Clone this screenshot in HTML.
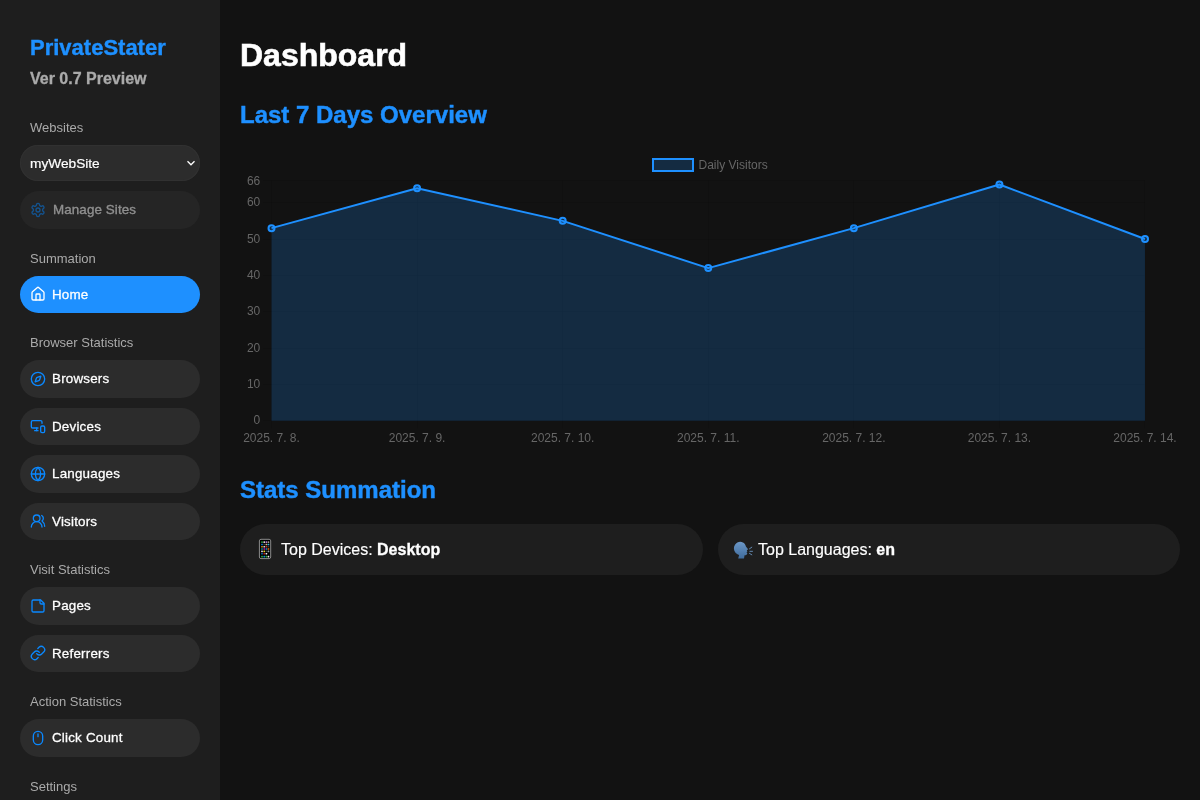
<!DOCTYPE html>
<html lang="en">
<head>
<meta charset="utf-8">
<title>PrivateStater - Dashboard</title>
<style>
*{box-sizing:border-box;}
html,body{margin:0;padding:0;}
body{width:1200px;height:800px;overflow:hidden;background:#121212;color:#fff;font-family:"Liberation Sans",Helvetica,Arial,sans-serif;position:relative;}
.sidebar{position:absolute;left:0;top:0;width:220px;height:800px;background:#1e1e1e;overflow:hidden;}
.brand{position:absolute;left:30px;top:35px;font-size:22px;font-weight:bold;color:#1e90ff;line-height:26px;white-space:nowrap;-webkit-text-stroke:0.4px #1e90ff;}
.ver{position:absolute;left:30px;top:69px;font-size:16px;font-weight:bold;color:#aaa;line-height:20px;white-space:nowrap;-webkit-text-stroke:0.3px #aaa;}
.label{position:absolute;left:30px;font-size:13px;color:#aaa;line-height:16px;white-space:nowrap;}
.item{position:absolute;left:20px;width:180px;height:37px;border-radius:19px;background:#2c2c2c;color:#fff;font-size:13.4px;letter-spacing:0.2px;line-height:37px;padding-left:32px;white-space:nowrap;-webkit-text-stroke:0.27px currentColor;}
.item svg{position:absolute;left:10px;top:10.5px;width:16px;height:16px;stroke:#0a88ff;fill:none;stroke-width:2;stroke-linecap:round;stroke-linejoin:round;}
.item.s svg{top:9.6px;}
.item.active{background:#1e90ff;}
.item.active svg{stroke:#fff;}
.item.dim{opacity:.5;padding-left:33px;letter-spacing:0.1px;}
.select{position:absolute;left:20px;top:145px;width:180px;height:36px;border-radius:18px;background:#2c2c2c;box-shadow:inset 0 0 0 1px #313131;color:#fff;font-size:13.7px;line-height:37px;padding-left:10px;-webkit-text-stroke:0.2px currentColor;}
.select svg{position:absolute;left:166px;top:14px;width:10px;height:8px;stroke:#fff;fill:none;stroke-width:1.3;}
.main{position:absolute;left:220px;top:0;width:980px;height:800px;}
h1{position:absolute;left:20px;top:37px;margin:0;font-size:32px;line-height:37px;font-weight:bold;color:#fff;white-space:nowrap;-webkit-text-stroke:0.6px #fff;}
h2{position:absolute;left:20px;margin:0;font-size:24px;line-height:28px;font-weight:bold;color:#1e90ff;white-space:nowrap;-webkit-text-stroke:0.45px #1e90ff;}
.chart{position:absolute;left:20px;top:150px;width:940px;height:300px;}
.chart text{font-family:"Liberation Sans",Helvetica,Arial,sans-serif;font-size:12px;fill:#666;}
.card{position:absolute;top:524px;height:51px;border-radius:25.5px;background:#1e1e1e;font-size:16px;line-height:52px;white-space:nowrap;color:#fff;-webkit-text-stroke:0.15px #fff;}
.card svg{position:absolute;}
.card b{-webkit-text-stroke:0.3px #fff;}
</style>
</head>
<body>
<div class="sidebar">
  <div class="brand">PrivateStater</div>
  <div class="ver">Ver 0.7 Preview</div>
  <div class="label" style="top:120px">Websites</div>
  <div class="select">myWebSite<svg viewBox="0 0 10 8"><path d="M1.500 2.300 L5 5.800 L8.500 2.300"/></svg></div>
  <div class="item dim" style="top:191px;height:38px"><svg viewBox="0 0 24 24"><path d="M12.220 2h-.44a2 2 0 0 0-2 2v.18a2 2 0 0 1-1 1.730l-.43.25a2 2 0 0 1-2 0l-.15-.08a2 2 0 0 0-2.730.73l-.22.38a2 2 0 0 0 .73 2.730l.15.1a2 2 0 0 1 1 1.720v.51a2 2 0 0 1-1 1.740l-.15.09a2 2 0 0 0-.73 2.730l.22.38a2 2 0 0 0 2.730.73l.15-.08a2 2 0 0 1 2 0l.43.25a2 2 0 0 1 1 1.730V20a2 2 0 0 0 2 2h.44a2 2 0 0 0 2-2v-.18a2 2 0 0 1 1-1.730l.43-.25a2 2 0 0 1 2 0l.15.08a2 2 0 0 0 2.730-.73l.22-.39a2 2 0 0 0-.73-2.730l-.15-.08a2 2 0 0 1-1-1.740v-.5a2 2 0 0 1 1-1.740l.15-.09a2 2 0 0 0 .73-2.730l-.22-.38a2 2 0 0 0-2.730-.73l-.15.08a2 2 0 0 1-2 0l-.43-.25a2 2 0 0 1-1-1.730V4a2 2 0 0 0-2-2z"/><circle cx="12" cy="12" r="3"/></svg>Manage Sites</div>
  <div class="label" style="top:251px">Summation</div>
  <div class="item active s" style="top:276px;height:37px"><svg viewBox="0 0 24 24"><path d="M15 21v-8a1 1 0 0 0-1-1h-4a1 1 0 0 0-1 1v8"/><path d="M3 10a2 2 0 0 1 .709-1.528l7-5.999a2 2 0 0 1 2.582 0l7 5.999A2 2 0 0 1 21 10v9a2 2 0 0 1-2 2H5a2 2 0 0 1-2-2z"/></svg>Home</div>
  <div class="label" style="top:335px">Browser Statistics</div>
  <div class="item" style="top:360px;height:38px"><svg viewBox="0 0 24 24"><path d="m16.240 7.760-1.804 5.411a2 2 0 0 1-1.265 1.265L7.760 16.240l1.804-5.411a2 2 0 0 1 1.265-1.265z"/><circle cx="12" cy="12" r="10"/></svg>Browsers</div>
  <div class="item s" style="top:408px;height:37px"><svg viewBox="0 0 24 24"><path d="M18 8V6a2 2 0 0 0-2-2H4a2 2 0 0 0-2 2v7a2 2 0 0 0 2 2h8"/><path d="M10 19v-3.960 3.150"/><path d="M7 19h5"/><rect width="6" height="10" x="16" y="12" rx="2"/></svg>Devices</div>
  <div class="item" style="top:455px;height:38px"><svg viewBox="0 0 24 24"><circle cx="12" cy="12" r="10"/><path d="M12 2a14.500 14.500 0 0 0 0 20 14.500 14.500 0 0 0 0-20"/><path d="M2 12h20"/></svg>Languages</div>
  <div class="item s" style="top:503px;height:37px"><svg viewBox="0 0 24 24"><path d="M18 21a8 8 0 0 0-16 0"/><circle cx="10" cy="8" r="5"/><path d="M22 20c0-3.370-2-6.500-4-8a5 5 0 0 0-.45-8.300"/></svg>Visitors</div>
  <div class="label" style="top:562px">Visit Statistics</div>
  <div class="item" style="top:587px;height:38px"><svg viewBox="0 0 24 24"><path d="M16 3H5a2 2 0 0 0-2 2v14a2 2 0 0 0 2 2h14a2 2 0 0 0 2-2V8Z"/><path d="M15 3v4a2 2 0 0 0 2 2h4"/></svg>Pages</div>
  <div class="item s" style="top:635px;height:37px"><svg viewBox="0 0 24 24"><path d="M10 13a5 5 0 0 0 7.540.54l3-3a5 5 0 0 0-7.070-7.070l-1.720 1.710"/><path d="M14 11a5 5 0 0 0-7.540-.54l-3 3a5 5 0 0 0 7.070 7.070l1.710-1.710"/></svg>Referrers</div>
  <div class="label" style="top:694px">Action Statistics</div>
  <div class="item" style="top:719px;height:38px"><svg viewBox="0 0 24 24"><rect x="5" y="2" width="14" height="20" rx="7"/><path d="M12 6v4"/></svg>Click Count</div>
  <div class="label" style="top:779px">Settings</div>
</div>
<div class="main">
  <h1>Dashboard</h1>
  <h2 style="top:101px">Last 7 Days Overview</h2>
  <svg class="chart" viewBox="240 150 940 300">
    <g stroke="rgba(0,0,0,0.1)" stroke-width="1" fill="none"><path d="M263 180.5 H1145.0"/><path d="M263 202.5 H1145.0"/><path d="M263 239.5 H1145.0"/><path d="M263 275.5 H1145.0"/><path d="M263 311.5 H1145.0"/><path d="M263 348.5 H1145.0"/><path d="M263 384.5 H1145.0"/><path d="M263 420.5 H1145.0"/><path d="M271.5 180.9 V428.5"/><path d="M417.5 180.9 V428.5"/><path d="M562.5 180.9 V428.5"/><path d="M708.5 180.9 V428.5"/><path d="M853.5 180.9 V428.5"/><path d="M999.5 180.9 V428.5"/><path d="M1144.5 180.9 V428.5"/></g>
    <polygon points="271.50,420.70 271.50,228.13 417.08,188.17 562.67,220.87 708.25,268.10 853.83,228.13 999.42,184.53 1145.00,239.03 1145.00,420.70" fill="rgba(30,144,255,0.2)"/>
    <polyline points="271.50,228.13 417.08,188.17 562.67,220.87 708.25,268.10 853.83,228.13 999.42,184.53 1145.00,239.03" fill="none" stroke="#1e90ff" stroke-width="2" stroke-linejoin="round" stroke-linecap="butt"/>
    <g fill="rgba(30,144,255,0.2)" stroke="#1e90ff" stroke-width="2"><circle cx="271.50" cy="228.13" r="3"/><circle cx="417.08" cy="188.17" r="3"/><circle cx="562.67" cy="220.87" r="3"/><circle cx="708.25" cy="268.10" r="3"/><circle cx="853.83" cy="228.13" r="3"/><circle cx="999.42" cy="184.53" r="3"/><circle cx="1145.00" cy="239.03" r="3"/></g>
    <rect x="653" y="159" width="40" height="12" fill="rgba(30,144,255,0.2)" stroke="#1e90ff" stroke-width="2"/>
    <text x="698.500" y="169">Daily Visitors</text>
    <g text-anchor="end"><text x="260.300" y="184.50">66</text><text x="260.300" y="206.30">60</text><text x="260.300" y="242.63">50</text><text x="260.300" y="278.97">40</text><text x="260.300" y="315.30">30</text><text x="260.300" y="351.63">20</text><text x="260.300" y="387.97">10</text><text x="260.300" y="424.30">0</text></g>
    <g text-anchor="middle"><text x="271.50" y="442.100">2025. 7. 8.</text><text x="417.08" y="442.100">2025. 7. 9.</text><text x="562.67" y="442.100">2025. 7. 10.</text><text x="708.25" y="442.100">2025. 7. 11.</text><text x="853.83" y="442.100">2025. 7. 12.</text><text x="999.42" y="442.100">2025. 7. 13.</text><text x="1145.00" y="442.100">2025. 7. 14.</text></g>
  </svg>
  <h2 style="top:476px">Stats Summation</h2>
  <div class="card" style="left:20px;width:463px;padding-left:41px"><svg style="left:15px;top:12px;width:20px;height:26px" viewBox="0 0 20 26" role="img" aria-label="phone"><rect x="4.40" y="3.30" width="11.30" height="19.30" rx="1.6" fill="#000" stroke="#8c8c8c" stroke-width="1"/><rect x="6.15" y="5.30" width="1.700" height="1.600" rx="0.4" fill="#2a9d3a"/><rect x="8.40" y="5.30" width="1.700" height="1.600" rx="0.4" fill="#dddddd"/><rect x="10.55" y="5.30" width="1.700" height="1.600" rx="0.4" fill="#b070d0"/><rect x="12.60" y="5.30" width="1.700" height="1.600" rx="0.4" fill="#a09888"/><rect x="6.15" y="7.70" width="1.700" height="1.600" rx="0.4" fill="#0a78d0"/><rect x="8.40" y="7.70" width="1.700" height="1.600" rx="0.4" fill="#3a3a3a"/><rect x="10.55" y="7.70" width="1.700" height="1.600" rx="0.4" fill="#d0b080"/><rect x="12.60" y="7.70" width="1.700" height="1.600" rx="0.4" fill="#30b8e0"/><rect x="6.15" y="9.95" width="1.700" height="1.600" rx="0.4" fill="#d09010"/><rect x="8.40" y="9.95" width="1.700" height="1.600" rx="0.4" fill="#c8d8e0"/><rect x="10.55" y="9.95" width="1.700" height="1.600" rx="0.4" fill="#d03020"/><rect x="12.60" y="9.95" width="1.700" height="1.600" rx="0.4" fill="#3a3a3a"/><rect x="6.15" y="12.20" width="1.700" height="1.600" rx="0.4" fill="#109090"/><rect x="8.40" y="12.20" width="1.700" height="1.600" rx="0.4" fill="#c010a0"/><rect x="10.55" y="12.20" width="1.700" height="1.600" rx="0.4" fill="#1088e0"/><rect x="12.60" y="12.20" width="1.700" height="1.600" rx="0.4" fill="#f07000"/><rect x="6.15" y="14.60" width="1.700" height="1.600" rx="0.4" fill="#e0d8e8"/><rect x="8.40" y="14.60" width="1.700" height="1.600" rx="0.4" fill="#e8d020"/><rect x="10.55" y="14.60" width="1.700" height="1.600" rx="0.4" fill="#3a3a3a"/><rect x="12.60" y="14.60" width="1.700" height="1.600" rx="0.4" fill="#90a0a8"/><rect x="6.15" y="16.90" width="1.700" height="1.600" rx="0.4" fill="#0870c0"/><rect x="8.40" y="16.90" width="1.700" height="1.600" rx="0.4" fill="#c02020"/><rect x="10.55" y="16.90" width="1.700" height="1.600" rx="0.4" fill="#eeeeee"/><rect x="6.15" y="19.80" width="1.700" height="1.600" rx="0.4" fill="#30b040"/><rect x="8.40" y="19.80" width="1.700" height="1.600" rx="0.4" fill="#1090e0"/><rect x="10.55" y="19.80" width="1.700" height="1.600" rx="0.4" fill="#30b040"/><rect x="12.60" y="19.80" width="1.700" height="1.600" rx="0.4" fill="#eeeeee"/></svg>Top Devices: <b>Desktop</b></div>
  <div class="card" style="left:498px;width:462px;padding-left:40px"><svg style="left:8px;top:10px;width:30px;height:30px" viewBox="0 0 30 30" role="img" aria-label="speaking head"><defs><linearGradient id="hg" x1="0" y1="0" x2="0" y2="1"><stop offset="0" stop-color="#6b97c7"/><stop offset="1" stop-color="#3f6b9b"/></linearGradient></defs><path d="M12.190 24.560 L13.120 21.000 C11.500 20.300 9.800 19.500 9.000 18.000 C7.600 15.800 7.500 13.000 9.000 10.870 C10.300 8.900 12.300 7.870 14.250 7.870 C16.200 7.870 17.900 8.800 18.750 10.120 C19.500 11.100 19.800 12.200 20.060 12.750 L22.120 15.370 L20.800 16.300 L21.370 17.440 L20.440 18.190 L21.370 19.310 L20.620 20.800 C20.000 21.300 19.200 21.400 18.560 21.370 L18.000 24.560 Z" fill="url(#hg)"/><g stroke="#6a94c0" stroke-width="0.9" stroke-linecap="round" fill="none"><path d="M23.500 14.800 L25.800 13.200"/><path d="M23.900 17.320 L26.500 17.320"/><path d="M23.500 19.400 L25.800 20.800"/></g></svg>Top Languages: <b>en</b></div>
</div>
</body>
</html>
